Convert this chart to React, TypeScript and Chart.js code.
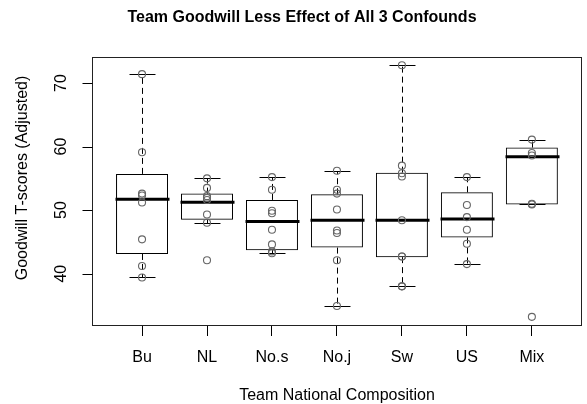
import React, { useEffect, useRef } from "react";
import { Chart, registerables } from "chart.js";

Chart.register(...registerables);

const categories = ["Bu", "NL", "No.s", "No.j", "Sw", "US", "Mix"];

const pointsBu = [71.4, 59.1, 52.6, 52.3, 51.2, 45.4, 41.2, 39.4];
const pointsNL = [55.0, 53.5, 52.2, 51.9, 51.6, 49.3, 48.0, 42.1];
const pointsNoS = [55.2, 53.2, 49.9, 49.5, 46.9, 44.6, 43.5, 43.2];
const pointsNoJ = [56.2, 53.2, 52.6, 50.1, 46.8, 46.4, 42.1, 34.9];
const pointsSw = [72.8, 57.0, 55.8, 55.3, 48.4, 42.7, 42.7, 38.0, 38.0];
const pointsUS = [55.2, 50.8, 48.9, 46.9, 44.7, 41.5];
const pointsMix = [61.1, 59.0, 58.6, 51.0, 50.9, 33.2];

const groupPoints = [pointsBu, pointsNL, pointsNoS, pointsNoJ, pointsSw, pointsUS, pointsMix];

const whiskerLow = [39.4, 48.0, 43.2, 34.9, 38.0, 41.5, 50.9];
const hingeLow = [43.1, 48.5, 43.7, 44.1, 42.6, 45.7, 50.9];
const medians = [51.7, 51.25, 48.2, 48.4, 48.4, 48.6, 58.4];
const hingeHigh = [55.7, 52.6, 51.6, 52.5, 55.9, 52.8, 59.85];
const whiskerHigh = [71.4, 55.0, 55.2, 56.2, 72.8, 55.2, 61.1];

const yTicks = [40, 50, 60, 70];

const titleText = "Team Goodwill Less Effect of All 3 Confounds";
const xTitle = "Team National Composition";
const yTitle = "Goodwill T-scores (Adjusted)";

const FONT = "'Liberation Sans', Arial, Helvetica, sans-serif";

const boxPlugin = {
  id: "boxParts",
  beforeDatasetsDraw(chart: any) {
    const { ctx } = chart;
    const x = chart.scales.x;
    const y = chart.scales.y;
    const spacing = x.getPixelForValue(2) - x.getPixelForValue(1);
    const halfW = (spacing * 0.8) / 2;
    const capHalf = halfW / 2;
    const line = (x1: number, y1: number, x2: number, y2: number) => {
      ctx.beginPath();
      ctx.moveTo(x1, y1);
      ctx.lineTo(x2, y2);
      ctx.stroke();
    };
    ctx.save();
    ctx.strokeStyle = "#000";
    categories.forEach((_, i) => {
      const cx = Math.round(x.getPixelForValue(i + 1)) + 0.5;
      const yWl = Math.round(y.getPixelForValue(whiskerLow[i])) + 0.5;
      const yWh = Math.round(y.getPixelForValue(whiskerHigh[i])) + 0.5;
      const yHl = y.getPixelForValue(hingeLow[i]);
      const yHh = y.getPixelForValue(hingeHigh[i]);
      const yM = y.getPixelForValue(medians[i]);
      ctx.lineWidth = 1;
      ctx.setLineDash([6, 4]);
      line(cx, yHh, cx, yWh);
      line(cx, yHl, cx, yWl);
      ctx.setLineDash([]);
      line(cx - capHalf, yWh, cx + capHalf, yWh);
      line(cx - capHalf, yWl, cx + capHalf, yWl);
      ctx.lineWidth = 3;
      line(cx - halfW - 1, yM, cx + halfW + 1, yM);
    });
    ctx.restore();
  },
  afterDraw(chart: any) {
    const { ctx, chartArea } = chart;
    const y = chart.scales.y;
    ctx.save();
    ctx.strokeStyle = "#222";
    ctx.lineWidth = 1;
    ctx.strokeRect(
      Math.round(chartArea.left) + 0.5,
      Math.round(chartArea.top) + 0.5,
      Math.round(chartArea.right - chartArea.left) - 1,
      Math.round(chartArea.bottom - chartArea.top) - 1
    );
    // y tick marks
    ctx.strokeStyle = "#000";
    const left = Math.round(chartArea.left) + 0.5;
    yTicks.forEach((v) => {
      const py = Math.round(y.getPixelForValue(v)) + 0.5;
      ctx.beginPath();
      ctx.moveTo(left - 10, py);
      ctx.lineTo(left, py);
      ctx.stroke();
    });
    ctx.fillStyle = "#000";
    // y tick labels (rotated like R)
    ctx.font = `16px ${FONT}`;
    ctx.textAlign = "center";
    ctx.textBaseline = "middle";
    yTicks.forEach((v) => {
      const py = y.getPixelForValue(v);
      ctx.save();
      ctx.translate(62, py);
      ctx.rotate(-Math.PI / 2);
      ctx.fillText(String(v), 0, 0);
      ctx.restore();
    });
    // y title
    ctx.save();
    ctx.translate(23, 178);
    ctx.rotate(-Math.PI / 2);
    ctx.fillText(yTitle, 0, 0);
    ctx.restore();
    // main title
    ctx.font = `bold 16px ${FONT}`;
    ctx.textBaseline = "alphabetic";
    ctx.fillText(titleText, 302, 22);
    ctx.restore();
  },
};

export default function App() {
  const ref = useRef<HTMLCanvasElement | null>(null);
  useEffect(() => {
    if (!ref.current) return;
    Chart.defaults.font.family = FONT;
    const scatterData = groupPoints.flatMap((arr, i) => arr.map((v) => ({ x: i + 1, y: v })));
    const boxData = categories.map((_, i) => ({ x: i + 1, y: [hingeLow[i], hingeHigh[i]] }));
    const chart = new Chart(ref.current, {
      type: "bar",
      data: {
        datasets: [
          {
            type: "scatter",
            data: scatterData as any,
            order: 0,
            pointStyle: "circle",
            pointRadius: 3.5,
            pointBorderWidth: 1.1,
            pointBackgroundColor: "rgba(0,0,0,0)",
            pointBorderColor: "#666",
            showLine: false,
          } as any,
          {
            type: "bar",
            data: boxData as any,
            order: 1,
            backgroundColor: "rgba(255,255,255,0)",
            borderColor: "#000",
            borderWidth: 1,
            borderSkipped: false,
            barPercentage: 0.8,
            categoryPercentage: 1,
          } as any,
        ],
      },
      options: {
        responsive: false,
        animation: false,
        devicePixelRatio: 1,
        layout: { padding: { top: 57, right: 1, left: 0, bottom: 0 } },
        plugins: {
          legend: { display: false },
          tooltip: { enabled: false },
          title: { display: false },
        },
        scales: {
          x: {
            type: "linear",
            min: 0.23,
            max: 7.77,
            offset: false,
            afterBuildTicks: (s: any) => {
              s.ticks = categories.map((_, i) => ({ value: i + 1 }));
            },
            afterFit: (s: any) => {
              s.height = 78;
            },
            ticks: {
              autoSkip: false,
              maxRotation: 0,
              minRotation: 0,
              padding: 12,
              color: "#000",
              font: { size: 16, family: FONT },
              callback: (v: any) => categories[Math.round(Number(v)) - 1] ?? "",
            },
            grid: {
              offset: false,
              drawOnChartArea: false,
              drawTicks: true,
              tickLength: 10,
              color: "#000",
              lineWidth: 1,
            },
            border: { display: false },
            title: {
              display: true,
              text: xTitle,
              color: "#000",
              font: { size: 16, family: FONT, lineHeight: 1 },
              padding: { top: 0, bottom: 0 },
            },
          },
          y: {
            type: "linear",
            min: 31.76,
            max: 74.1,
            afterBuildTicks: (s: any) => {
              s.ticks = yTicks.map((v) => ({ value: v }));
            },
            afterFit: (s: any) => {
              s.width = 92;
            },
            ticks: { display: false },
            grid: { display: false },
            border: { display: false },
          },
        },
      } as any,
      plugins: [boxPlugin],
    });
    return () => chart.destroy();
  }, []);
  return (
    <div style={{ position: "absolute", left: 0, top: 0, width: 587, height: 404, background: "#fff" }}>
      <canvas ref={ref} width={587} height={404} style={{ display: "block" }} />
    </div>
  );
}
